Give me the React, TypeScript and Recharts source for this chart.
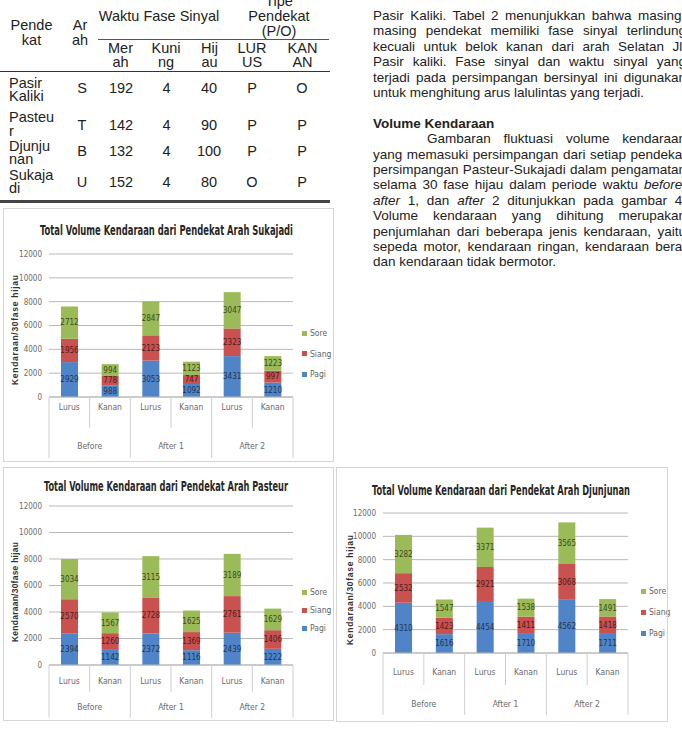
import React from 'react';
import { BarChart, Bar, XAxis, YAxis, CartesianGrid, LabelList, Legend } from 'recharts';

// ---------------- DATA ----------------
const categories = ['Lurus', 'Kanan', 'Lurus', 'Kanan', 'Lurus', 'Kanan'];
const groups = ['Before', 'Before', 'After 1', 'After 1', 'After 2', 'After 2'];
const yTicks = [0, 2000, 4000, 6000, 8000, 10000, 12000];
const seriesNames = ['Pagi', 'Siang', 'Sore'];

const sukajadiPagi = [2929, 988, 3053, 1092, 3431, 1210];
const sukajadiSiang = [1956, 778, 2123, 747, 2323, 997];
const sukajadiSore = [2712, 994, 2847, 1123, 3047, 1223];

const pasteurPagi = [2394, 1142, 2372, 1116, 2439, 1222];
const pasteurSiang = [2570, 1260, 2728, 1369, 2761, 1406];
const pasteurSore = [3034, 1567, 3115, 1625, 3189, 1629];

const djunjunanPagi = [4310, 1616, 4454, 1710, 4562, 1711];
const djunjunanSiang = [2532, 1423, 2921, 1411, 3068, 1418];
const djunjunanSore = [3282, 1547, 3371, 1538, 3565, 1491];

const tableRows = [
  { name: ['Pasir', 'Kaliki'], arah: 'S', merah: 192, kuning: 4, hijau: 40, lurus: 'P', kanan: 'O' },
  { name: ['Pasteu', 'r'], arah: 'T', merah: 142, kuning: 4, hijau: 90, lurus: 'P', kanan: 'P' },
  { name: ['Djunju', 'nan'], arah: 'B', merah: 132, kuning: 4, hijau: 100, lurus: 'P', kanan: 'P' },
  { name: ['Sukaja', 'di'], arah: 'U', merah: 152, kuning: 4, hijau: 80, lurus: 'O', kanan: 'P' },
];

// ---------------- STYLE ----------------
const NARROW = "'Liberation Sans Narrow','Arial Narrow','DejaVu Sans Condensed','Liberation Sans',Arial,sans-serif";
const SANS = "'Liberation Sans',Arial,Helvetica,sans-serif";
const C_PAGI = '#4f84c9';
const C_SIANG = '#c9514f';
const C_SORE = '#9bbb59';
const GRID = '#b9b9b9';

type Cfg = {
  title: string;
  pagi: number[];
  siang: number[];
  sore: number[];
  box: { x: number; y: number; w: number; h: number };
  plot: { l: number; t: number; r: number; b: number };
  titleY: number;
  titleX1: number;
  titleX2: number;
  yl: { cx: number; cy: number; len: number };
  legend: { x: number; y: number; step: number };
  catY: number;
  groupY: number;
  shortEnd: number;
  longEnd: number;
};

const charts: Cfg[] = [
  {
    title: 'Total Volume Kendaraan dari Pendekat Arah  Sukajadi',
    pagi: sukajadiPagi, siang: sukajadiSiang, sore: sukajadiSore,
    box: { x: 3, y: 208, w: 331, h: 254 },
    plot: { l: 49, t: 254, r: 293, b: 397 },
    titleY: 230, titleX1: 40, titleX2: 293,
    yl: { cx: 15, cy: 330, len: 110 },
    legend: { x: 302, y: 333, step: 20.7 },
    catY: 407, groupY: 446, shortEnd: 428, longEnd: 458,
  },
  {
    title: 'Total Volume Kendaraan dari Pendekat Arah Pasteur',
    pagi: pasteurPagi, siang: pasteurSiang, sore: pasteurSore,
    box: { x: 3, y: 467, w: 331, h: 254 },
    plot: { l: 49, t: 506, r: 293, b: 665 },
    titleY: 486, titleX1: 44, titleX2: 288,
    yl: { cx: 15, cy: 592, len: 100 },
    legend: { x: 302, y: 592, step: 18 },
    catY: 681, groupY: 707, shortEnd: 692, longEnd: 718,
  },
  {
    title: 'Total Volume Kendaraan dari Pendekat Arah Djunjunan',
    pagi: djunjunanPagi, siang: djunjunanSiang, sore: djunjunanSore,
    box: { x: 336, y: 467, w: 332, h: 255 },
    plot: { l: 383, t: 513, r: 628, b: 653 },
    titleY: 490, titleX1: 372, titleX2: 630,
    yl: { cx: 350, cy: 590, len: 110 },
    legend: { x: 641, y: 591, step: 21 },
    catY: 672, groupY: 704, shortEnd: 685, longEnd: 715,
  },
];

function VolumeChart({ cfg }: { cfg: Cfg }) {
  const { box, plot } = cfg;
  const data = categories.map((c, i) => ({
    slot: `${groups[i]}-${c}-${i}`,
    pagi: cfg.pagi[i],
    siang: cfg.siang[i],
    sore: cfg.sore[i],
  }));
  const bw = (plot.r - plot.l) / categories.length;
  const yAxisW = plot.l - box.x;
  const xAxisH = box.y + box.h - plot.b;
  const margin = { top: plot.t - box.y, right: box.x + box.w - plot.r, bottom: 0, left: 0 };
  const catDy = cfg.catY - plot.b;
  const groupDy = cfg.groupY - plot.b;
  const shortLen = cfg.shortEnd - plot.b;
  const longLen = cfg.longEnd - plot.b;

  const renderTick = (p: any) => {
    const { x, y, index } = p;
    const half = bw / 2;
    return (
      <g>
        <text x={x} y={y + catDy} textAnchor="middle" dominantBaseline="central"
          fontSize={8.5} fill="#6b6b6b" fontFamily={NARROW}>{categories[index]}</text>
        {index === 0 && (
          <line x1={x - half} x2={x - half} y1={y} y2={y + longLen} stroke="#cfcfcf" />
        )}
        {index % 2 === 1 && (
          <>
            <line x1={x - half} x2={x - half} y1={y} y2={y + shortLen} stroke="#cfcfcf" />
            <line x1={x + half} x2={x + half} y1={y} y2={y + longLen} stroke="#cfcfcf" />
            <text x={x - half} y={y + groupDy} textAnchor="middle" dominantBaseline="central"
              fontSize={8.5} fill="#6b6b6b" fontFamily={NARROW}>{groups[index]}</text>
          </>
        )}
      </g>
    );
  };

  const legendItems = [
    { label: seriesNames[2], color: C_SORE },
    { label: seriesNames[1], color: C_SIANG },
    { label: seriesNames[0], color: C_PAGI },
  ];
  const step = cfg.legend.step;
  const LegendBox = () => (
    <div style={{ position: 'relative', width: 40, height: step * 3 }}>
      {legendItems.map((it, k) => (
        <div key={it.label} style={{
          position: 'absolute', left: 0, top: k * step - 6, height: 12,
          display: 'flex', alignItems: 'center', fontSize: 8.5, color: '#5f5f5f',
          fontFamily: NARROW, whiteSpace: 'nowrap',
        }}>
          <span style={{ display: 'inline-block', width: 5, height: 5, background: it.color, marginRight: 3 }} />
          {it.label}
        </div>
      ))}
    </div>
  );

  const labelCommon = { position: 'center' as const, fontSize: 8, fontFamily: NARROW };

  return (
    <div style={{ position: 'absolute', left: box.x, top: box.y, width: box.w, height: box.h }}>
      <BarChart width={box.w} height={box.h} data={data} margin={margin}>
        <CartesianGrid vertical={false} stroke={GRID} />
        <XAxis dataKey="slot" height={xAxisH} interval={0} tickLine={false} tickSize={0} tickMargin={0}
          axisLine={{ stroke: GRID }} tick={renderTick} />
        <YAxis width={yAxisW} domain={[0, 12000]} ticks={yTicks} interval={0} axisLine={false} tickLine={false}
          tickSize={0} tickMargin={7} tick={{ fontSize: 8, fill: '#6b6b6b', fontFamily: NARROW }} />
        <Bar dataKey="pagi" stackId="s" fill={C_PAGI} barSize={17} isAnimationActive={false}>
          <LabelList dataKey="pagi" {...labelCommon} fill="#1f3554" />
        </Bar>
        <Bar dataKey="siang" stackId="s" fill={C_SIANG} barSize={17} isAnimationActive={false}>
          <LabelList dataKey="siang" {...labelCommon} fill="#4e1c1b" />
        </Bar>
        <Bar dataKey="sore" stackId="s" fill={C_SORE} barSize={17} isAnimationActive={false}>
          <LabelList dataKey="sore" {...labelCommon} fill="#3d4a1e" />
        </Bar>
        <Legend layout="vertical" align="center" verticalAlign="middle"
          wrapperStyle={{ left: cfg.legend.x - box.x, top: cfg.legend.y - box.y, width: 40, height: step * 3 }}
          content={<LegendBox />} />
      </BarChart>
      <svg width={box.w} height={box.h} style={{ position: 'absolute', left: 0, top: 0, pointerEvents: 'none' }}>
        <text x={(cfg.titleX1 + cfg.titleX2) / 2 - box.x} y={cfg.titleY - box.y} textAnchor="middle"
          dominantBaseline="central" fontSize={14.5} fontWeight="bold" fill="#262626" fontFamily={NARROW}
          textLength={cfg.titleX2 - cfg.titleX1} lengthAdjust="spacingAndGlyphs">{cfg.title}</text>
        <text transform={`translate(${cfg.yl.cx - box.x},${cfg.yl.cy - box.y}) rotate(-90)`} textAnchor="middle"
          dominantBaseline="central" fontSize={8.5} fontWeight="bold" fill="#333" fontFamily={SANS}
          textLength={cfg.yl.len} lengthAdjust="spacing">Kendaraan/30fase hijau</text>
      </svg>
      <div style={{ position: 'absolute', left: 0, top: 0, width: box.w, height: box.h, boxSizing: 'border-box', border: '1px solid #d6d6d6', pointerEvents: 'none' }} />
    </div>
  );
}

// ---------------- TABLE & TEXT ----------------
const TXT = '#222';

function T({ x, y, children, align = 'center', size = 14.5, bold = false }: any) {
  const tx = align === 'center' ? 'translate(-50%,-50%)' : 'translate(0,-50%)';
  return (
    <div style={{
      position: 'absolute', left: x, top: y, transform: tx, whiteSpace: 'nowrap',
      fontFamily: SANS, fontSize: size, lineHeight: '12px', color: TXT, fontWeight: bold ? 'bold' : 'normal',
    }}>{children}</div>
  );
}

function HLine({ x1, x2, y, w = 1, color = '#444' }: any) {
  return <div style={{ position: 'absolute', left: x1, top: y - w / 2, width: x2 - x1, height: w, background: color }} />;
}

function Table() {
  const rowY = [88, 125, 151, 182];
  const nameY = [[83, 96], [117, 131], [146, 159], [175, 188]];
  const sub = [
    { cx: 120.5, l1: 'Mer', l2: 'ah' },
    { cx: 166, l1: 'Kuni', l2: 'ng' },
    { cx: 209.5, l1: 'Hij', l2: 'au' },
    { cx: 252, l1: 'LUR', l2: 'US' },
    { cx: 302.5, l1: 'KAN', l2: 'AN' },
  ];
  return (
    <>
      <T x={31.5} y={25}>Pende</T>
      <T x={31.5} y={40}>kat</T>
      <T x={80} y={25}>Ar</T>
      <T x={80} y={40}>ah</T>
      <T x={159} y={16}>Waktu Fase Sinyal</T>
      <T x={279} y={1}>Tipe</T>
      <T x={279} y={16}>Pendekat</T>
      <T x={279} y={31}>(P/O)</T>
      <HLine x1={98} x2={329} y={39.5} w={1.5} color="#555" />
      {sub.map((s, i) => (
        <React.Fragment key={i}>
          <T x={s.cx} y={48}>{s.l1}</T>
          <T x={s.cx} y={62}>{s.l2}</T>
        </React.Fragment>
      ))}
      <HLine x1={0} x2={330} y={71} w={1} color="#333" />
      {tableRows.map((r, i) => (
        <React.Fragment key={i}>
          <T x={9} y={nameY[i][0]} align="left">{r.name[0]}</T>
          <T x={9} y={nameY[i][1]} align="left">{r.name[1]}</T>
          <T x={82} y={rowY[i]}>{r.arah}</T>
          <T x={121} y={rowY[i]}>{r.merah}</T>
          <T x={166.5} y={rowY[i]}>{r.kuning}</T>
          <T x={209} y={rowY[i]}>{r.hijau}</T>
          <T x={252} y={rowY[i]}>{r.lurus}</T>
          <T x={302} y={rowY[i]}>{r.kanan}</T>
        </React.Fragment>
      ))}
      <HLine x1={0} x2={330} y={201.5} w={3} color="#444" />
    </>
  );
}

const TEXT_X = 373;
const TEXT_W = 313;
const LH = 15.4;

function Line({ y, children, justify = true, indent = 0, bold = false }: any) {
  return (
    <div style={{
      position: 'absolute', left: TEXT_X + indent, top: y - 7, width: TEXT_W - indent, height: 14,
      lineHeight: '14px', fontFamily: SANS, fontSize: 13.5, color: TXT, whiteSpace: 'nowrap',
      textAlign: justify ? 'justify' : 'left', textAlignLast: justify ? 'justify' : 'left',
      fontWeight: bold ? 'bold' : 'normal',
    } as any}>{children}</div>
  );
}

function Paragraphs() {
  const y0 = 16;
  const p1 = [
    'Pasir Kaliki. Tabel 2 menunjukkan bahwa masing-',
    'masing pendekat memiliki fase sinyal terlindung',
    'kecuali untuk belok kanan dari arah Selatan Jl.',
    'Pasir kaliki. Fase sinyal dan waktu sinyal yang',
    'terjadi pada persimpangan bersinyal ini digunakan',
  ];
  const hy = y0 + 7 * LH;
  const p2y = (k: number) => hy + (k + 1) * LH;
  return (
    <>
      {p1.map((t, i) => <Line key={i} y={y0 + i * LH}>{t}</Line>)}
      <Line y={y0 + 5 * LH} justify={false}>untuk menghitung arus lalulintas yang terjadi.</Line>
      <Line y={hy} justify={false} bold>Volume Kendaraan</Line>
      <Line y={p2y(0)} indent={54}>Gambaran fluktuasi volume kendaraan</Line>
      <Line y={p2y(1)}>yang memasuki persimpangan dari setiap pendekat</Line>
      <Line y={p2y(2)}>persimpangan Pasteur-Sukajadi dalam pengamatan</Line>
      <Line y={p2y(3)}>selama 30 fase hijau dalam periode waktu <i>before</i>,</Line>
      <Line y={p2y(4)}><i>after</i> 1, dan <i>after</i> 2 ditunjukkan pada gambar 4.</Line>
      <Line y={p2y(5)}>Volume kendaraan yang dihitung merupakan</Line>
      <Line y={p2y(6)}>penjumlahan dari beberapa jenis kendaraan, yaitu</Line>
      <Line y={p2y(7)}>sepeda motor, kendaraan ringan, kendaraan berat</Line>
      <Line y={p2y(8)} justify={false}>dan kendaraan tidak bermotor.</Line>
    </>
  );
}

export default function App() {
  return (
    <div style={{ position: 'absolute', left: 0, top: 0, width: 682, height: 730, overflow: 'hidden', background: '#fff' }}>
      <Table />
      <Paragraphs />
      {charts.map((c, i) => <VolumeChart key={i} cfg={c} />)}
    </div>
  );
}
